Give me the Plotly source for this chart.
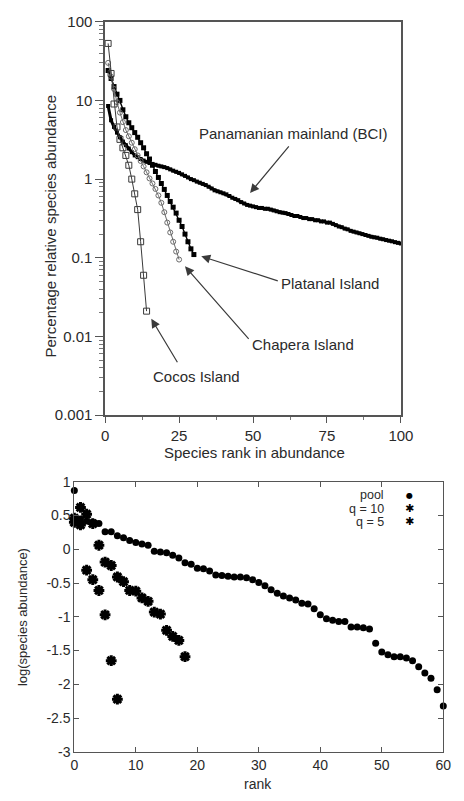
import math
import plotly.graph_objects as go

# Percentage relative species abundance by rank (rank 1 first)
bci_abundance = [
    8.5, 5.6, 4.6, 3.9, 3.4, 3.0, 2.7, 2.45, 2.2, 2.0,
    1.9, 1.8, 1.72, 1.66, 1.6, 1.56, 1.52, 1.48, 1.45, 1.42,
    1.38, 1.33, 1.28, 1.24, 1.2, 1.15, 1.1, 1.05, 1.0, 0.97,
    0.93, 0.9, 0.87, 0.84, 0.8, 0.76, 0.72, 0.7, 0.68, 0.66,
    0.64, 0.61, 0.58, 0.56, 0.54, 0.51, 0.49, 0.47, 0.46, 0.45,
    0.44, 0.43, 0.43, 0.42, 0.42, 0.41, 0.4, 0.39, 0.38, 0.375,
    0.37, 0.36, 0.35, 0.34, 0.34, 0.33, 0.32, 0.32, 0.31, 0.31,
    0.3, 0.3, 0.29, 0.29, 0.28, 0.28, 0.27, 0.26, 0.25, 0.245,
    0.235, 0.23, 0.22, 0.215, 0.21, 0.205, 0.2, 0.195, 0.19, 0.185,
    0.182, 0.18, 0.175, 0.172, 0.168, 0.165, 0.162, 0.158, 0.155, 0.152,
]
platanal_abundance = [
    24, 19, 15, 12, 10, 7.6, 6.2, 5.2, 4.5, 3.9,
    3.4, 2.9, 2.5, 2.1, 1.8, 1.5, 1.25, 1.05, 0.88, 0.74,
    0.62, 0.52, 0.44, 0.37, 0.3, 0.25, 0.2, 0.16, 0.13, 0.11,
]
chapera_abundance = [
    30, 20, 14, 9.5, 7, 5.3, 4.2, 3.5, 2.9, 2.4,
    2.0, 1.7, 1.45, 1.22, 1.02, 0.88, 0.75, 0.62, 0.5, 0.38,
    0.28, 0.21, 0.16, 0.12, 0.095,
]
cocos_abundance = [
    53, 22, 9, 4.6, 3.2, 2.5, 2.0, 1.5, 1.0, 0.65,
    0.41, 0.16, 0.06, 0.021,
]

# log10 species abundance by rank (rank 0 first)
pool_log = [
    0.87, 0.45, 0.42, 0.4, 0.38, 0.26, 0.26, 0.2, 0.17, 0.13,
    0.1, 0.08, 0.06, -0.03, -0.04, -0.05, -0.09, -0.13, -0.2, -0.22,
    -0.28, -0.29, -0.32, -0.38, -0.39, -0.4, -0.41, -0.41, -0.42, -0.45,
    -0.49, -0.54, -0.6, -0.65, -0.69, -0.72, -0.75, -0.8, -0.81, -0.88,
    -0.97, -1.03, -1.05, -1.07, -1.07, -1.15, -1.15, -1.16, -1.18, -1.39,
    -1.52, -1.56, -1.59, -1.59, -1.61, -1.65, -1.74, -1.83, -1.91, -2.08,
    -2.32,
]
q10_log = [
    0.4, 0.36, 0.52, 0.38, 0.06, -0.19, -0.24, -0.41, -0.48, -0.61,
    -0.62, -0.72, -0.77, -0.93, -0.96, -1.2, -1.29, -1.35, -1.59,
]
q5_log = [0.46, 0.62, -0.31, -0.45, -0.61, -0.97, -1.65, -2.22]

top_yticks = [0.001, 0.01, 0.1, 1, 10, 100]
top_yticktext = ["0.001", "0.01", "0.1", "1", "10", "100"]
top_xticks = [0, 25, 50, 75, 100]
bottom_xticks = [0, 10, 20, 30, 40, 50, 60]
bottom_yticks = [1, 0.5, 0, -0.5, -1, -1.5, -2, -2.5, -3]
legend_names = ["pool", "q = 10", "q = 5"]
legend_keys = ["\u25CF", "\u2731", "\u2731"]

W, H = 464, 801
FONT = "Liberation Sans, Arial, Helvetica, sans-serif"
TXT = "#2a2a2a"


def fx(p):
    return p / W


def fy(p):
    return 1 - p / H


def ranks(values, start):
    return list(range(start, start + len(values)))


fig = go.Figure()

# ---- upper panel: rank-abundance curves
fig.add_trace(go.Scatter(
    x=ranks(bci_abundance, 1), y=bci_abundance, mode="lines+markers",
    line=dict(color="black", width=3),
    marker=dict(symbol="square", size=4, color="black"),
    xaxis="x", yaxis="y", showlegend=False, cliponaxis=False))
fig.add_trace(go.Scatter(
    x=ranks(platanal_abundance, 1), y=platanal_abundance, mode="lines+markers",
    line=dict(color="black", width=1.4),
    marker=dict(symbol="square", size=5, color="black"),
    xaxis="x", yaxis="y", showlegend=False, cliponaxis=False))
fig.add_trace(go.Scatter(
    x=ranks(chapera_abundance, 1), y=chapera_abundance, mode="lines+markers",
    line=dict(color="#6a6a6a", width=1),
    marker=dict(symbol="circle-open", size=5, color="#6a6a6a", line=dict(width=1)),
    xaxis="x", yaxis="y", showlegend=False, cliponaxis=False))
fig.add_trace(go.Scatter(
    x=ranks(cocos_abundance, 1), y=cocos_abundance, mode="lines+markers",
    line=dict(color="#3a3a3a", width=1),
    marker=dict(symbol="square-open", size=6, color="#3a3a3a", line=dict(width=1)),
    xaxis="x", yaxis="y", showlegend=False, cliponaxis=False))

# ---- lower panel: simulated communities
fig.add_trace(go.Scatter(
    x=ranks(pool_log, 0), y=pool_log, mode="markers", name=legend_names[0],
    marker=dict(symbol="circle", size=7, color="black"),
    xaxis="x2", yaxis="y2", showlegend=False, cliponaxis=False))
star = dict(symbol="asterisk-open", size=9, color="black",
            line=dict(width=3, color="black"))
fig.add_trace(go.Scatter(
    x=ranks(q10_log, 0), y=q10_log, mode="markers", name=legend_names[1],
    marker=star, xaxis="x2", yaxis="y2", showlegend=False, cliponaxis=False))
fig.add_trace(go.Scatter(
    x=ranks(q5_log, 0), y=q5_log, mode="markers", name=legend_names[2],
    marker=star, xaxis="x2", yaxis="y2", showlegend=False, cliponaxis=False))

minor_log = [m * 10 ** e for e in range(-3, 2) for m in range(2, 10)]

fig.update_layout(
    width=W, height=H, margin=dict(l=0, r=0, t=0, b=0),
    paper_bgcolor="white", plot_bgcolor="white",
    font=dict(family=FONT, color=TXT, size=15),
    xaxis=dict(
        domain=[fx(105), fx(412)], anchor="y", range=[0, 100],
        tickvals=top_xticks, ticks="outside", ticklen=6, tickwidth=1,
        tickcolor="#555", showline=True, linecolor="#555", linewidth=1.5,
        mirror=True, showgrid=False, zeroline=False,
        tickfont=dict(size=15, color=TXT),
        minor=dict(tickvals=[12.5, 37.5, 62.5, 87.5], ticks="outside",
                   ticklen=3, tickcolor="#777", showgrid=False)),
    yaxis=dict(
        domain=[fy(415), fy(13)], anchor="x", type="log", range=[-3, 2],
        tickvals=top_yticks, ticktext=top_yticktext, ticks="outside",
        ticklen=8, tickwidth=1, tickcolor="#555", showline=True,
        linecolor="#555", linewidth=1.5, mirror=True, showgrid=False,
        zeroline=False, tickfont=dict(size=15, color=TXT),
        minor=dict(tickvals=minor_log, ticks="outside", ticklen=4,
                   tickcolor="#777", showgrid=False)),
    xaxis2=dict(
        domain=[fx(73), fx(456)], anchor="y2", range=[0, 60],
        tickvals=bottom_xticks, ticks="inside", ticklen=5, tickcolor="#555",
        showline=True, linecolor="#555", linewidth=1, mirror="ticks",
        showgrid=False, zeroline=False, tickfont=dict(size=14, color=TXT)),
    yaxis2=dict(
        domain=[fy(759), fy(483)], anchor="x2", range=[-3, 1],
        tickvals=bottom_yticks, ticktext=[f"{v:g}" for v in bottom_yticks],
        ticks="inside", ticklen=5, tickcolor="#555", showline=True,
        linecolor="#555", linewidth=1, mirror="ticks", showgrid=False,
        zeroline=False, tickfont=dict(size=14, color=TXT)),
)

ann = []


def label(text, x, y, size=15, xanchor="center", angle=0, color=TXT,
          family=FONT):
    ann.append(dict(text=text, x=fx(x), y=fy(y), xref="paper", yref="paper",
                    xanchor=xanchor, yanchor="middle", showarrow=False,
                    textangle=angle, borderpad=0,
                    font=dict(size=size, color=color, family=family)))


def arrow(x_rank, y_val, ax, ay):
    ann.append(dict(text="", x=x_rank, y=math.log10(y_val), xref="x", yref="y",
                    ax=ax, ay=ay, showarrow=True, arrowhead=2, arrowsize=1.5,
                    arrowwidth=1.2, arrowcolor="#3a3a3a", standoff=0))


# axis titles
label("Percentage relative species abundance", 48, 222, 15, angle=-90)
label("Species rank in abundance", 260, 453, 15)
label("log(species abundance)", 20, 621, 13, angle=-90)
label("rank", 264, 792, 14)

# series labels with arrows to the curves
label("Panamanian mainland (BCI)", 300, 127, 15)
arrow(49, bci_abundance[48] * 1.45, 40, -48)
label("Platanal Island", 287, 280, 15, xanchor="left")
arrow(len(platanal_abundance) + 2.5, platanal_abundance[-1] * 0.95, 78, 25)
label("Chapera Island", 256, 343, 15, xanchor="left")
arrow(len(chapera_abundance) + 2, chapera_abundance[-1] * 0.82, 65, 74)
label("Cocos Island", 200, 375, 15)
arrow(len(cocos_abundance) + 1.6, cocos_abundance[-1] * 0.8, 27, 45)

# legend: text right aligned, glyph keys to its right
key_y0, key_dy = 497, 13.5
key_sizes = [8, 11, 11]
for i, name in enumerate(legend_names):
    label(name, 395, key_y0 + i * key_dy, 12.5, xanchor="right")
    label(legend_keys[i], 421, key_y0 + i * key_dy, key_sizes[i],
          color="black", family="DejaVu Sans")

fig.update_layout(annotations=ann)
fig.write_html("out.html")
